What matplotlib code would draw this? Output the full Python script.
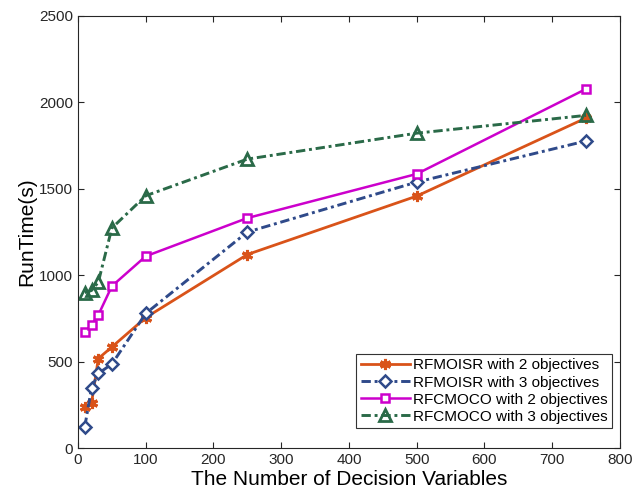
import matplotlib
matplotlib.use("Agg")
import matplotlib.pyplot as plt

plt.rcParams["font.family"] = ["Liberation Sans", "DejaVu Sans"]

# decision variables
n_vars = [10, 20, 30, 50, 100, 250, 500, 750]

# run time (s)
rfmoisr_2 = [235, 260, 518, 585, 755, 1120, 1458, 1910]
rfmoisr_3 = [123, 349, 432, 486, 779, 1250, 1539, 1777]
rfcmoco_2 = [670, 712, 770, 937, 1110, 1331, 1586, 2078]
rfcmoco_3 = [900, 912, 960, 1273, 1460, 1672, 1822, 1925]

labels = ["RFMOISR with 2 objectives", "RFMOISR with 3 objectives",
          "RFCMOCO with 2 objectives", "RFCMOCO with 3 objectives"]

dashdot = (3.2, 1.3, 1.0, 1.3)

fig = plt.figure(figsize=(6.32, 4.99), dpi=100)
ax = fig.add_axes([0.1234, 0.102, 0.8576, 0.866])

ax.plot(n_vars, rfmoisr_2, color="#D95319", ls="-", lw=2.0,
        marker=(6, 2, 0), ms=8, mew=2.2, label=labels[0])
ax.plot(n_vars, rfmoisr_3, color="#2F4A8A", ls="-.", dashes=dashdot, lw=2.1,
        marker="D", ms=6, mfc="white", mew=1.8, label=labels[1])
ax.plot(n_vars, rfcmoco_2, color="#CC00CC", ls="-", lw=1.8,
        marker="s", ms=6, mfc="white", mew=1.8, label=labels[2])
ax.plot(n_vars, rfcmoco_3, color="#2A6A48", ls="-.", dashes=dashdot, lw=2.1,
        marker="^", ms=8, mfc="none", mew=2.0, label=labels[3])

ax.set_xlim(0, 800)
ax.set_ylim(0, 2500)
ax.set_xticks(range(0, 801, 100))
ax.set_yticks(range(0, 2501, 500))
ax.tick_params(direction="in", labelsize=11, top=True, right=True, length=4,
               colors="#262626")
for s in ax.spines.values():
    s.set_color("#262626")
ax.set_xlabel("The Number of Decision Variables", fontsize=15, labelpad=2)
ax.set_ylabel("RunTime(s)", fontsize=15, labelpad=2)

leg = ax.legend(loc="lower right", bbox_to_anchor=(0.985, 0.046), fontsize=11,
                fancybox=False, framealpha=1, edgecolor="#333333",
                handlelength=3.2, borderpad=0.3, labelspacing=0.2,
                handletextpad=0.2, borderaxespad=0)
leg.get_frame().set_linewidth(0.8)

fig.savefig("out.png", dpi=100)
